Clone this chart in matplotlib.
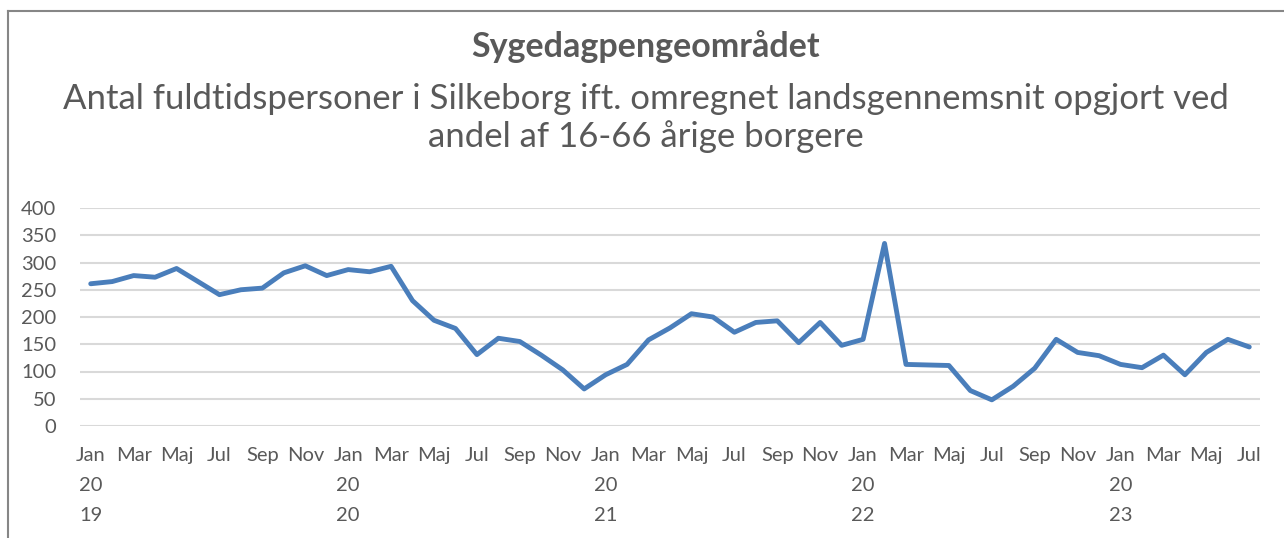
import matplotlib
matplotlib.use("Agg")
import matplotlib.pyplot as plt
from matplotlib.lines import Line2D

# Monthly values, Jan 2019 - Jul 2023
values = [
    261, 265, 276, 273, 289, 265, 241, 250, 253, 281, 294, 276,  # 2019
    287, 283, 293, 230, 194, 179, 131, 161, 155, 130, 103, 68,    # 2020
    94, 113, 158, 180, 206, 200, 172, 190, 193, 153, 190, 148,    # 2021
    159, 335, 113, 112, 111, 65, 48, 73, 106, 159, 135, 129,      # 2022
    113, 107, 130, 94, 135, 159, 145,                             # 2023
]
month_names = ["Jan", "Feb", "Mar", "Apr", "Maj", "Jun",
               "Jul", "Aug", "Sep", "Okt", "Nov", "Dec"]
start_year = 2019

title = "Sygedagpengeområdet"
subtitle = ("Antal fuldtidspersoner i Silkeborg ift. omregnet landsgennemsnit opgjort ved\n"
            "andel af 16-66 årige borgere")

TEXT = "#595959"
LINE = "#4a7ebb"
GRID = "#d9d9d9"

plt.rcParams["font.family"] = ["Lato", "DejaVu Sans"]

fig = plt.figure(figsize=(12.84, 5.38), dpi=100)
ax = fig.add_axes([80 / 1284, 1 - 426 / 538, 1180 / 1284, 218 / 538])

x = list(range(len(values)))
ax.plot(x, values, color=LINE, lw=3.5, solid_joinstyle="round", solid_capstyle="round", zorder=3)

ax.set_xlim(-0.5, len(values) - 0.5)
ax.set_ylim(0, 400)
ax.set_yticks(range(0, 401, 50))
ax.grid(axis="y", color=GRID, lw=1.5)
ax.set_axisbelow(True)

tick_pos = list(range(0, len(values), 2))
tick_lab = []
for i in tick_pos:
    m = i % 12
    lab = month_names[m]
    if m == 0:
        yr = str(start_year + i // 12)
        lab = f"{lab}\n{yr[:2]}\n{yr[2:]}"
    tick_lab.append(lab)
ax.set_xticks(tick_pos)
ax.set_xticklabels(tick_lab, linespacing=1.95, va="top")

for s in ax.spines.values():
    s.set_visible(False)
ax.tick_params(axis="both", length=0, colors=TEXT, labelsize=14.5)
ax.tick_params(axis="x", pad=15)
ax.tick_params(axis="y", pad=17)

fig.text(646 / 1284, 1 - 47 / 538, title, ha="center", va="center",
         fontsize=24.5, fontweight="bold", color=TEXT)
fig.text(646 / 1284, 1 - 118 / 538, subtitle, ha="center", va="center",
         fontsize=25, color=TEXT, linespacing=1.2)

# chart frame (top and left edges visible)
fig.add_artist(Line2D([8 / 1284, 8 / 1284], [0, 1 - 11 / 538], color="#868686", lw=1.5))
fig.add_artist(Line2D([8 / 1284, 1], [1 - 11 / 538, 1 - 11 / 538], color="#868686", lw=1.5))

fig.savefig("out.png", dpi=100)
